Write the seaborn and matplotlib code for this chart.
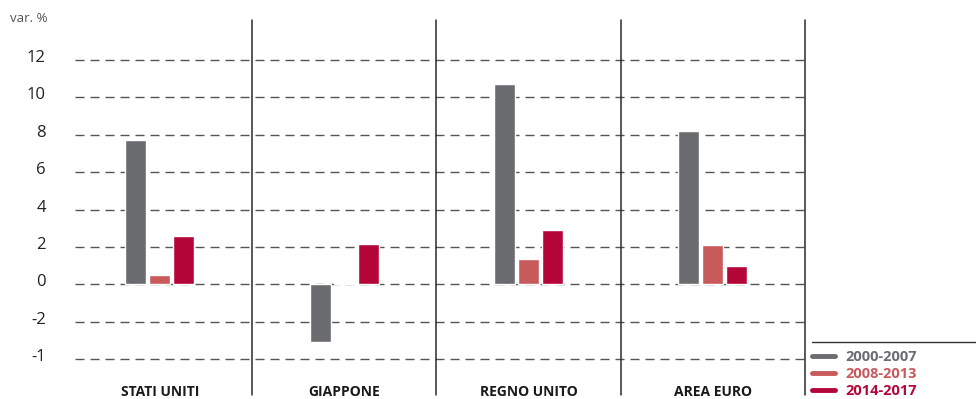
import numpy as np
import pandas as pd
import seaborn as sns
import matplotlib
matplotlib.use("Agg")
import matplotlib.pyplot as plt
import matplotlib.transforms as mtransforms
from matplotlib.lines import Line2D

# Paesi / aree e periodi
paesi = ["STATI UNITI", "GIAPPONE", "REGNO UNITO", "AREA EURO"]
periodi = ["2000-2007", "2008-2013", "2014-2017"]

# Variazioni percentuali per periodo
v_2000_2007 = [7.7, -3.1, 10.7, 8.2]
v_2008_2013 = [0.5, 0.05, 1.35, 2.1]
v_2014_2017 = [2.6, 2.15, 2.9, 0.95]

# Asse verticale
tick_values = [12, 10, 8, 6, 4, 2, 0, -2, -4]
tick_labels = ["12", "10", "8", "6", "4", "2", "0", "-2", "-1"]

colori = ["#6b6c70", "#c85a5c", "#b5063a"]

df = pd.DataFrame({
    "paese": paesi * 3,
    "periodo": [periodi[0]] * 4 + [periodi[1]] * 4 + [periodi[2]] * 4,
    "valore": v_2000_2007 + v_2008_2013 + v_2014_2017,
})

sns.set_theme(style="white")
plt.rcParams["font.family"] = ["Open Sans", "DejaVu Sans"]

W, H = 976, 399
fig = plt.figure(figsize=(W / 100, H / 100), dpi=100)
left, right, top, bottom = 75, 805, 20, 372
ax = fig.add_axes([left / W, 1 - bottom / H, (right - left) / W, (bottom - top) / H])

sns.barplot(data=df, x="paese", y="valore", hue="periodo", order=paesi,
            hue_order=periodi, palette=colori, saturation=1, width=0.39,
            gap=0.12, legend=False, ax=ax)

# Scala: 12 -> y=60 px, -4 -> y=359 px
ppu = (359 - 60) / 16.0
ymax = 12 + (60 - top) / ppu
ymin = -4 - (bottom - 359) / ppu
ax.set_ylim(ymin, ymax)
ax.set_xlim(-0.46, 3.5)

ax.set_yticks(tick_values)
ax.set_yticklabels(tick_labels)
ax.yaxis.grid(True, linestyle=(0, (6.5, 4.3)), color="#555555", linewidth=1)
ax.xaxis.grid(False)
ax.set_axisbelow(True)
for s in ax.spines.values():
    s.set_visible(False)
ax.set_xlabel("")
ax.set_ylabel("")
ax.tick_params(axis="y", length=0, pad=21, labelsize=12, labelcolor="#222222")
ax.tick_params(axis="x", length=0, pad=9, labelsize=10, labelcolor="#1a1a1a")
for lab in ax.get_xticklabels():
    lab.set_fontweight("bold")
offset = mtransforms.ScaledTranslation(0, 4 / 100, fig.dpi_scale_trans)
for lab in ax.get_yticklabels():
    lab.set_transform(lab.get_transform() + offset)

# Separatori verticali tra i gruppi
trans = mtransforms.blended_transform_factory(ax.transData, ax.transAxes)
for x in [0.5, 1.5, 2.5, 3.5]:
    ax.plot([x, x], [-0.065, 1.0], transform=trans, color="#2b2b2b",
            linewidth=1.1, clip_on=False, zorder=5)

fig.text(10 / W, 1 - 18 / H, "var. %", ha="left", va="center",
         fontsize=9.5, color="#555555")

# Legenda
fig.add_artist(Line2D([812 / W, 1.0], [1 - 342 / H] * 2, color="#333333",
                      linewidth=1, transform=fig.transFigure))
handles = [Line2D([0], [0], color=c, linewidth=3.5) for c in colori]
fig.legend(handles, periodi, loc="upper left",
           bbox_to_anchor=(806 / W, 1 - 344 / H), frameon=False,
           handlelength=1.6, handletextpad=0.7, labelspacing=0.22,
           borderaxespad=0, labelcolor="linecolor",
           prop={"weight": "bold", "size": 10.5})

fig.savefig("out.png", dpi=100)
